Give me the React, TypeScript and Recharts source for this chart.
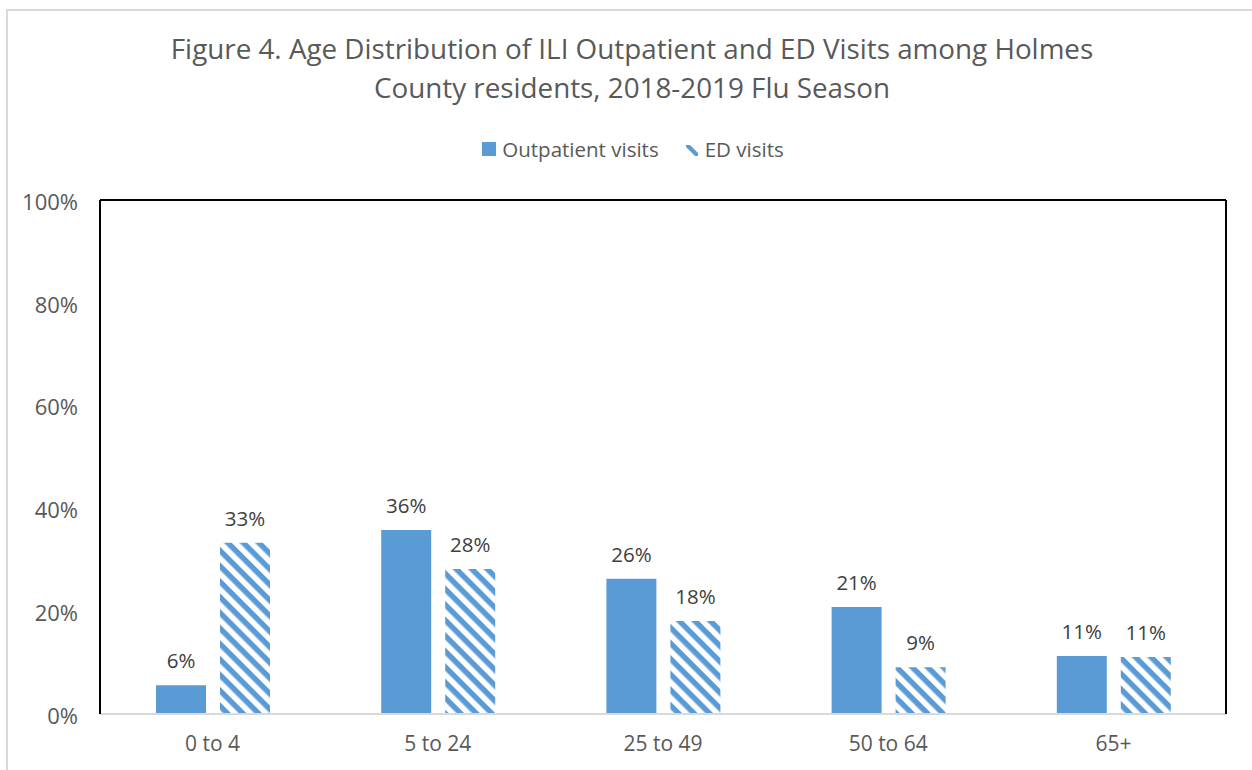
import React from "react";
import { BarChart, Bar, XAxis, YAxis, CartesianGrid, LabelList, ReferenceLine } from "recharts";

const categories = ["0 to 4", "5 to 24", "25 to 49", "50 to 64", "65+"];
const outpatientValues = [0.056, 0.358, 0.263, 0.208, 0.113];
const edValues = [0.333, 0.282, 0.181, 0.091, 0.111];
const yTicks = [0, 0.2, 0.4, 0.6, 0.8, 1];
const seriesNames = ["Outpatient visits", "ED visits"];

const data = categories.map((c, i) => ({ name: c, outpatient: outpatientValues[i], ed: edValues[i] }));

const BLUE = "#5b9bd5";
const FONT = "'Open Sans', sans-serif";
const pct = (v: any) => `${Math.round(Number(v) * 100)}%`;

export default function App() {
  return (
    <div style={{ position: "absolute", left: 0, top: 0, width: 1252, height: 770, background: "#fff", fontFamily: FONT, overflow: "hidden" }}>
      <div style={{ position: "absolute", left: 6, top: 9, width: 1260, height: 780, borderLeft: "2px solid #d9d9d9", borderTop: "2px solid #d9d9d9" }} />
      <div style={{ position: "absolute", left: 0, top: 29, width: 1264, textAlign: "center", color: "#595959", fontSize: 27.8, lineHeight: "39px" }}>
        Figure 4. Age Distribution of ILI Outpatient and ED Visits among Holmes<br />County residents, 2018-2019 Flu Season
      </div>
      <div style={{ position: "absolute", left: 0, top: 135, width: 1266, display: "flex", justifyContent: "center", alignItems: "center", color: "#595959", fontSize: 20.5 }}>
        <svg width="14" height="14" style={{ marginRight: 6 }}><rect width="14" height="14" fill={BLUE} /></svg>
        <span style={{ marginRight: 26 }}>{seriesNames[0]}</span>
        <svg width="14" height="14" style={{ marginRight: 6 }}>
          <polygon points="1,3 5,3 13,11 13,14 10,14 1,5" fill={BLUE} />
        </svg>
        <span>{seriesNames[1]}</span>
      </div>
      <div style={{ position: "absolute", left: 0, top: 0 }}>
        <BarChart width={1252} height={770} data={data} margin={{ top: 200, right: 25, bottom: 0, left: 0 }} barSize={50} barGap={14}>
          <defs>
            <pattern id="edHatch" patternUnits="userSpaceOnUse" width="11" height="11" patternTransform="rotate(45)">
              <rect x="0" y="0" width="11" height="11" fill="#ffffff" />
              <rect x="0" y="0" width="11" height="5.5" fill={BLUE} />
            </pattern>
          </defs>
          <CartesianGrid vertical={false} stroke="#d9d9d9" strokeWidth={1.3} />
          <XAxis dataKey="name" height={56} tickLine={false} axisLine={{ stroke: "#d9d9d9", strokeWidth: 2 }} tickSize={0} tickMargin={22} tick={{ fill: "#595959", fontSize: 21, fontFamily: FONT }} />
          <YAxis yAxisId="left" domain={[0, 1]} ticks={yTicks} width={100} tickFormatter={pct} tickLine={false} tickSize={0} tickMargin={22} axisLine={{ stroke: "#000", strokeWidth: 2 }} tick={{ fill: "#595959", fontSize: 22, fontFamily: FONT, dy: 2 }} />
          <YAxis yAxisId="right" orientation="right" domain={[0, 1]} width={1} tick={false} tickLine={false} axisLine={{ stroke: "#000", strokeWidth: 2 }} />
          <ReferenceLine yAxisId="left" y={1} stroke="#000" strokeWidth={2} />
          <Bar yAxisId="left" dataKey="outpatient" name={seriesNames[0]} fill={BLUE} isAnimationActive={false}>
            <LabelList dataKey="outpatient" position="top" offset={17} formatter={pct} style={{ fill: "#404040", fontSize: 20.5, fontFamily: FONT }} />
          </Bar>
          <Bar yAxisId="left" dataKey="ed" name={seriesNames[1]} fill="url(#edHatch)" isAnimationActive={false}>
            <LabelList dataKey="ed" position="top" offset={17} formatter={pct} style={{ fill: "#404040", fontSize: 20.5, fontFamily: FONT }} />
          </Bar>
        </BarChart>
      </div>
    </div>
  );
}
